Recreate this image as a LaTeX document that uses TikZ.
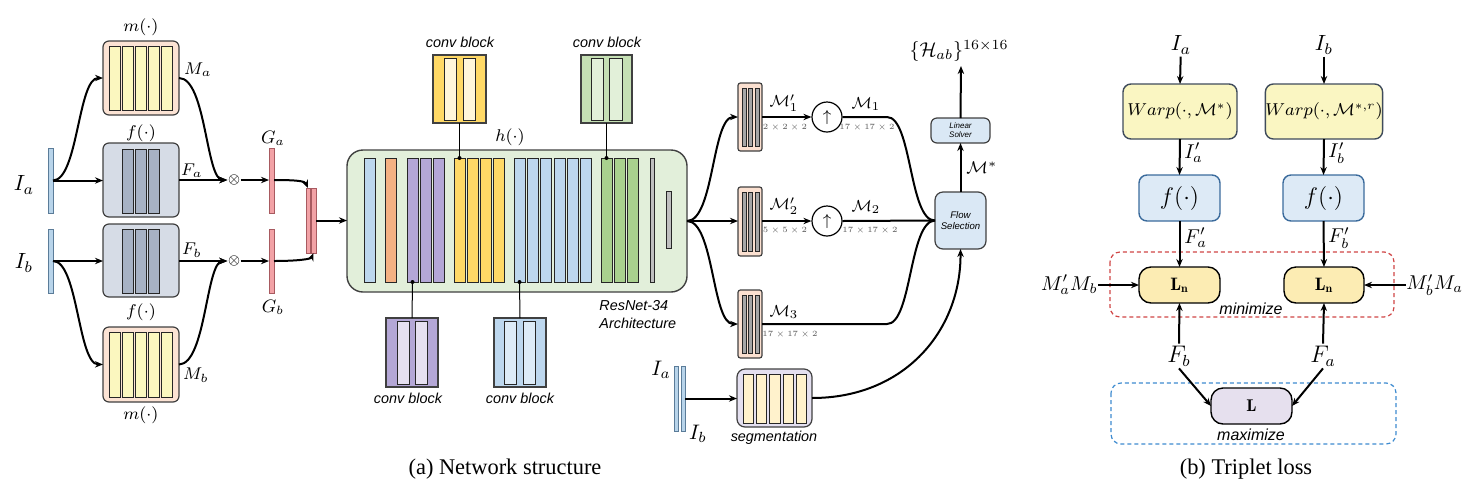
\documentclass[tikz,border=0pt]{standalone}
\usepackage{fix-cm}
\usepackage{amsmath}
\usepackage{fontspec}
\newfontfamily\hv{Liberation Sans}
\newfontfamily\tms{Liberation Serif}
\usetikzlibrary{arrows.meta}
\definecolor{inblue}{HTML}{B8D4EA}
\definecolor{inbd}{HTML}{5B7C99}
\definecolor{peach}{HTML}{FCE3D4}
\definecolor{ybar}{HTML}{FBF7BF}
\definecolor{fgray}{HTML}{D6DCE6}
\definecolor{fbar}{HTML}{A7B2C4}
\definecolor{gpink}{HTML}{F2A2A6}
\definecolor{gpinkbd}{HTML}{A85A60}
\definecolor{hgreen}{HTML}{E2EFDA}
\definecolor{cblue}{HTML}{BDD7EE}
\definecolor{corange}{HTML}{F4B183}
\definecolor{cpurp}{HTML}{B4A7D6}
\definecolor{cyel}{HTML}{FFD966}
\definecolor{cgreen}{HTML}{A9D18E}
\definecolor{cgray}{HTML}{BFBFBF}
\definecolor{cyelin}{HTML}{FFF6DA}
\definecolor{cgreenbox}{HTML}{C5E0B4}
\definecolor{cgreenin}{HTML}{E2F0D9}
\definecolor{cpurpin}{HTML}{E6E0F0}
\definecolor{cbluein}{HTML}{DDEBF7}
\definecolor{sbpeach}{HTML}{FBE0D0}
\definecolor{sbbar}{HTML}{A6A6A6}
\definecolor{fsblue}{HTML}{DAE8F5}
\definecolor{seglav}{HTML}{E4E0F0}
\definecolor{segbar}{HTML}{FFF2CC}
\definecolor{warpy}{HTML}{FAF6C2}
\definecolor{warpbd}{HTML}{3F4B5B}
\definecolor{fRfill}{HTML}{DDEAF6}
\definecolor{fRbd}{HTML}{3B6B9C}
\definecolor{lnfill}{HTML}{FCECB3}
\definecolor{lfill}{HTML}{E6E0EE}
\definecolor{reddash}{HTML}{D04545}
\definecolor{bluedash}{HTML}{3D8BD0}
\newcommand\pxbox[7]{\node[#2,minimum width={(#5-#3)*0.5pt},minimum height={(#6-#4)*0.5pt},inner sep=0pt,outer sep=0pt] (#1) at ({(#3+#5)/2},{(#4+#6)/2}) {#7};}
\begin{document}
\begin{tikzpicture}[x=0.5pt,y=-0.5pt,
  arr/.style={line width=1pt,-{Stealth[length=4pt,width=3.2pt]}},
  ln/.style={line width=1pt},
  thinln/.style={line width=0.5pt},
  bx/.style={draw=black!75,line width=0.6pt},
  barst/.style={draw=black!85,line width=0.5pt},
  lab/.style={inner sep=0pt},
  mlab/.style={inner sep=0pt,font=\fontsize{8.5}{10}\selectfont},
  biglab/.style={inner sep=0pt,font=\fontsize{11}{13}\selectfont},
  dimlab/.style={inner sep=0pt,text=black!65,font=\fontsize{4}{4.8}\selectfont},
  sflab/.style={inner sep=0pt,font=\fontsize{7.2}{9}\selectfont\hv\itshape},
  dot/.style={circle,fill=black,inner sep=0pt,minimum size=2pt},
 ]
\useasboundingbox (0,0) rectangle (1479,494);

% ---------------- LEFT ----------------
\pxbox{IaBar}{fill=inblue,draw=inbd,line width=0.5pt}{48}{148}{53}{213}{}
\pxbox{IbBar}{fill=inblue,draw=inbd,line width=0.5pt}{48}{229}{53}{293}{}
\node[biglab] (LIa) at (24,185) {$I_a$};
\node[biglab] (LIb) at (24,263) {$I_b$};

\pxbox{mT}{bx,fill=peach,rounded corners=3pt}{103}{41}{179}{115}{}
\pxbox{fT}{bx,fill=fgray,rounded corners=3pt}{103}{143}{179}{217}{}
\pxbox{fB}{bx,fill=fgray,rounded corners=3pt}{103}{224}{179}{297}{}
\pxbox{mB}{bx,fill=peach,rounded corners=3pt}{103}{327}{179}{402}{}
\foreach \xx [count=\i] in {109,122,135,148,161}{
  \pxbox{mTb\i}{barst,fill=ybar}{\xx}{46}{\xx+11}{110}{}
  \pxbox{mBb\i}{barst,fill=ybar}{\xx}{332}{\xx+11}{397}{}
}
\foreach \xx [count=\i] in {122,135,148}{
  \pxbox{fTb\i}{barst,fill=fbar}{\xx}{149}{\xx+11}{213}{}
  \pxbox{fBb\i}{barst,fill=fbar}{\xx}{229}{\xx+11}{293}{}
}
\node[mlab] (LmT) at (141,27) {$m(\cdot)$};
\node[mlab] (LfT) at (141,133) {$f(\cdot)$};
\node[mlab] (LfB) at (141,312) {$f(\cdot)$};
\node[mlab] (LmB) at (141,415) {$m(\cdot)$};
\node[mlab] (LMa) at (198,70) {$M_a$};
\node[mlab] (LMb) at (196,375) {$M_b$};
\node[mlab] (LFa) at (192,171) {$F_a$};
\node[mlab] (LFb) at (192,250) {$F_b$};

\node[inner sep=0pt,font=\fontsize{7}{8}\selectfont] (oxT) at (234,180) {$\otimes$};
\node[inner sep=0pt,font=\fontsize{7}{8}\selectfont] (oxB) at (234,261) {$\otimes$};

\pxbox{Ga}{fill=gpink,draw=gpinkbd,line width=0.5pt}{269}{148}{274}{213}{}
\pxbox{Gb}{fill=gpink,draw=gpinkbd,line width=0.5pt}{269}{229}{274}{293}{}
\node[mlab,font=\fontsize{9}{10}\selectfont] (LGa) at (273,138) {$G_a$};
\node[mlab,font=\fontsize{9}{10}\selectfont] (LGb) at (273,307) {$G_b$};
\pxbox{C1}{fill=gpink,draw=gpinkbd,line width=0.5pt}{306}{188}{310}{253}{}
\pxbox{C2}{fill=gpink,draw=gpinkbd,line width=0.5pt}{311}{188}{316}{253}{}

\draw[arr] (IaBar.east) -- (IaBar.east -| fT.west);
\draw[arr] (IbBar.east) -- (IbBar.east -| fB.west);
\draw[arr] (IaBar.east) .. controls (78,180) and (78,78) .. (mT.west);
\draw[arr] (IbBar.east) .. controls (78,261) and (78,364) .. (mB.west);
\draw[arr] (fT.east) -- (oxT.west);
\draw[arr] (fB.east |- oxB) -- (oxB.west);
\draw[arr] (mT.east) .. controls (206,78) and (206,180) .. (oxT.west);
\draw[arr] (mB.east) .. controls (206,364) and (206,261) .. (oxB.west);
\draw[arr] (oxT.east) -- (oxT.east -| Ga.west);
\draw[arr] (oxB.east) -- (oxB.east -| Gb.west);
\draw[arr] (Ga.east |- oxT) .. controls (296,180) and (305,181) .. (C1.north);
\draw[arr] (Gb.east |- oxB) .. controls (298,261) and (311,259) .. (C2.south);

% ---------------- MIDDLE ----------------
\pxbox{hBox}{draw=black!75,line width=0.7pt,fill=hgreen,rounded corners=8pt}{347}{150}{687}{292}{}
\node[mlab] (Lh) at (510,137) {$h(\cdot)$};
\draw[arr] (C2.east) -- (C2.east -| hBox.west);
\pxbox{hb1}{barst,fill=cblue}{364}{158}{375}{282}{}
\pxbox{hb2}{barst,fill=corange}{385}{158}{396}{282}{}
\foreach \xx [count=\i] in {407,420,433}{\pxbox{hp\i}{barst,fill=cpurp}{\xx}{158}{\xx+11}{282}{}}
\foreach \xx [count=\i] in {454,467,480,493}{\pxbox{hy\i}{barst,fill=cyel}{\xx}{158}{\xx+11}{282}{}}
\foreach \xx [count=\i] in {514,527,540,554,567,580}{\pxbox{hl\i}{barst,fill=cblue}{\xx}{158}{\xx+11}{282}{}}
\foreach \xx [count=\i] in {601,614,627}{\pxbox{hg\i}{barst,fill=cgreen}{\xx}{158}{\xx+11}{282}{}}
\pxbox{hq1}{barst,fill=cgray}{650}{158}{654}{282}{}
\pxbox{hq2}{barst,fill=cgray}{666}{191}{671}{248}{}

% conv blocks
\pxbox{cvA}{bx,fill=cyel}{433}{55}{486}{123}{}
\pxbox{cvAi1}{barst,fill=cyelin}{444}{58}{456}{120}{}
\pxbox{cvAi2}{barst,fill=cyelin}{463}{58}{475}{120}{}
\pxbox{cvB}{bx,fill=cgreenbox}{581}{55}{632}{123}{}
\pxbox{cvBi1}{barst,fill=cgreenin}{591}{58}{603}{120}{}
\pxbox{cvBi2}{barst,fill=cgreenin}{609}{58}{622}{120}{}
\pxbox{cvC}{bx,fill=cpurp}{386}{318}{438}{387}{}
\pxbox{cvCi1}{barst,fill=cpurpin}{397}{321}{409}{384}{}
\pxbox{cvCi2}{barst,fill=cpurpin}{415}{321}{427}{384}{}
\pxbox{cvD}{bx,fill=cblue}{494}{318}{546}{387}{}
\pxbox{cvDi1}{barst,fill=cbluein}{504}{321}{516}{384}{}
\pxbox{cvDi2}{barst,fill=cbluein}{523}{321}{535}{384}{}
\node[sflab] (LcvA) at (460,42) {conv block};
\node[sflab] (LcvB) at (607,42) {conv block};
\node[sflab] (LcvC) at (408,398) {conv block};
\node[sflab] (LcvD) at (520,398) {conv block};
\draw[thinln] (cvA.south) -- (hy1.north) node[dot]{};
\draw[thinln] (cvB.south) -- (hg1.north) node[dot]{};
\draw[thinln] (cvC.north) -- (hp1.south) node[dot]{};
\draw[thinln] (cvD.north) -- (hl1.south) node[dot]{};
\node[sflab,anchor=west,align=left] (Lres) at (599,315) {ResNet-34\\Architecture};

% ---------------- RIGHT-MIDDLE ----------------
\pxbox{sb1}{bx,fill=sbpeach,rounded corners=1.2pt}{738}{83}{762}{151}{}
\pxbox{sb2}{bx,fill=sbpeach,rounded corners=1.2pt}{738}{187}{762}{256}{}
\pxbox{sb3}{bx,fill=sbpeach,rounded corners=1.2pt}{738}{290}{762}{358}{}
\foreach \xx [count=\i] in {742,748.5,755}{
  \pxbox{sb1b\i}{barst,fill=sbbar}{\xx}{88}{\xx+4}{146}{}
  \pxbox{sb2b\i}{barst,fill=sbbar}{\xx}{192}{\xx+4}{251}{}
  \pxbox{sb3b\i}{barst,fill=sbbar}{\xx}{295}{\xx+4}{353}{}
}
\coordinate (br) at (hBox.east);
\draw[arr] (br) .. controls (714,221) and (712,117) .. (sb1.west);
\draw[arr] (br) -- (br -| sb2.west);
\draw[arr] (br) .. controls (714,221) and (712,324) .. (sb3.west);

\node[draw,circle,fill=white,line width=0.6pt,minimum size=15pt,inner sep=0pt,font=\fontsize{8}{9}\selectfont] (up1) at (827,117) {$\uparrow$};
\node[draw,circle,fill=white,line width=0.6pt,minimum size=15pt,inner sep=0pt,font=\fontsize{8}{9}\selectfont] (up2) at (827,221) {$\uparrow$};

\pxbox{FS}{bx,fill=fsblue,rounded corners=4pt,align=center,font=\fontsize{4.8}{5.8}\selectfont\hv\itshape}{935}{192}{986}{249}{Flow\\Selection}
\pxbox{LS}{bx,fill=fsblue,rounded corners=3pt,align=center,font=\fontsize{4}{4.6}\selectfont\hv\itshape}{931}{118}{990}{143}{Linear\\Solver}

\draw[arr] (sb1.east |- up1) -- (up1.west);
\draw[arr] (sb2.east |- up2) -- (up2.west);
\draw[ln] (up1.east) -- (887,117) .. controls (912,117) and (909,221) .. (FS.west);
\draw[ln] (sb3.east |- 0,324) -- (887,324) .. controls (912,324) and (909,221) .. (FS.west);
\draw[arr] (up2.east) -- (FS.west);

\node[mlab,font=\fontsize{8}{9}\selectfont] (LM1p) at (784,103) {$\mathcal{M}_1'$};
\node[dimlab] (D1) at (785,127) {$2\times2\times2$};
\node[mlab,font=\fontsize{8}{9}\selectfont] (LM1) at (866,104) {$\mathcal{M}_1$};
\node[dimlab] (D2) at (867,127) {$17\times17\times2$};
\node[mlab,font=\fontsize{8}{9}\selectfont] (LM2p) at (784,206) {$\mathcal{M}_2'$};
\node[dimlab] (D3) at (785,230) {$5\times5\times2$};
\node[mlab,font=\fontsize{8}{9}\selectfont] (LM2) at (866,207) {$\mathcal{M}_2$};
\node[dimlab] (D4) at (870,230) {$17\times17\times2$};
\node[mlab,font=\fontsize{8}{9}\selectfont] (LM3) at (784,312) {$\mathcal{M}_3$};
\node[dimlab] (D5) at (790,334) {$17\times17\times2$};

\draw[arr] (FS.north) -- (LS.south);
\node[mlab] (LMs) at (982,168) {$\mathcal{M}^*$};
\coordinate (Hend) at (961,66);
\draw[arr] (LS.north) -- (Hend);
\node[inner sep=0pt,font=\fontsize{10}{11}\selectfont] (LH) at (959,51) {$\{\mathcal{H}_{ab}\}^{16\times16}$};

% segmentation
\pxbox{IAbot}{fill=inblue,draw=inbd,line width=0.5pt}{674}{366}{678}{431}{}
\pxbox{IBbot}{fill=inblue,draw=inbd,line width=0.5pt}{681}{366}{685}{431}{}
\node[biglab,font=\fontsize{10.5}{12}\selectfont] (LIa2) at (661,370) {$I_a$};
\node[biglab,font=\fontsize{10.5}{12}\selectfont] (LIb2) at (698,434) {$I_b$};
\pxbox{seg}{bx,fill=seglav,rounded corners=4pt}{737}{369}{812}{427}{}
\foreach \xx [count=\i] in {743,756,769.5,783,796}{\pxbox{segb\i}{barst,fill=segbar}{\xx}{374}{\xx+10.5}{423}{}}
\node[sflab] (Lseg) at (774,438) {segmentation};
\draw[arr] (IBbot.east) -- (IBbot.east -| seg.west);
\draw[arr] (seg.east) .. controls (905,398) and (961,330) .. (FS.south);

% ---------------- RIGHT (triplet) ----------------
\node[biglab,inner sep=1pt] (RIa) at (1181,45) {$I_a$};
\node[biglab,inner sep=1pt] (RIb) at (1324,45) {$I_b$};
\pxbox{W1}{draw=warpbd,line width=0.7pt,fill=warpy,rounded corners=4pt,font=\fontsize{8.6}{10}\selectfont}{1123}{84}{1237}{139}{$Warp(\cdot,\mathcal{M}^*)$}
\pxbox{W2}{draw=warpbd,line width=0.7pt,fill=warpy,rounded corners=4pt,font=\fontsize{8.6}{10}\selectfont}{1267}{84}{1381}{139}{$Warp(\cdot,\mathcal{M}^{*,r})$}
\pxbox{fR1}{draw=fRbd,line width=0.7pt,fill=fRfill,rounded corners=4pt,font=\fontsize{12}{13}\selectfont}{1139}{175}{1220}{221}{$f(\cdot)$}
\pxbox{fR2}{draw=fRbd,line width=0.7pt,fill=fRfill,rounded corners=4pt,font=\fontsize{12}{13}\selectfont}{1283}{175}{1364}{221}{$f(\cdot)$}
\draw[rounded corners=5pt,draw=reddash,line width=0.6pt,dash pattern=on 2pt off 1.5pt] (1110,252) rectangle (1394,317);
\draw[rounded corners=5pt,draw=bluedash,line width=0.6pt,dash pattern=on 2pt off 1.5pt] (1111,383) rectangle (1396,444);
\pxbox{Ln1}{draw=black,line width=0.7pt,fill=lnfill,rounded corners=6pt,font=\fontsize{9}{10}\selectfont}{1139}{267}{1220}{303}{$\mathbf{L_n}$}
\pxbox{Ln2}{draw=black,line width=0.7pt,fill=lnfill,rounded corners=6pt,font=\fontsize{9}{10}\selectfont}{1284}{267}{1364}{303}{$\mathbf{L_n}$}
\pxbox{Lm}{draw=black,line width=0.7pt,fill=lfill,rounded corners=6pt,font=\fontsize{8.5}{10}\selectfont}{1211}{388}{1292}{424}{$\mathbf{L}$}

\draw[arr] (RIa) -- (W1.north);
\draw[arr] (RIb) -- (W2.north);
\draw[arr] (W1.south) -- (fR1.north);
\draw[arr] (W2.south) -- (fR2.north);
\draw[arr] (fR1.south) -- (Ln1.north);
\draw[arr] (fR2.south) -- (Ln2.north);
\node[biglab,font=\fontsize{10}{11}\selectfont,anchor=west] (LIap) at (1184,153) {$I_a'$};
\node[biglab,font=\fontsize{10}{11}\selectfont,anchor=west] (LIbp) at (1328,153) {$I_b'$};
\node[biglab,font=\fontsize{10}{11}\selectfont,anchor=west] (LFap) at (1184,238) {$F_a'$};
\node[biglab,font=\fontsize{10}{11}\selectfont,anchor=west] (LFbp) at (1328,238) {$F_b'$};

\node[biglab,font=\fontsize{10}{11}\selectfont,anchor=east] (LMaMb) at (1098,285) {$M_a'M_b$};
\node[biglab,font=\fontsize{10}{11}\selectfont,anchor=west] (LMbMa) at (1406,285) {$M_b'M_a$};
\draw[arr] (LMaMb.east) -- (Ln1.west);
\draw[arr] (LMbMa.west) -- (Ln2.east);
\node[sflab,font=\fontsize{8}{9}\selectfont\hv\itshape] (Lmin) at (1251,309) {minimize};
\node[sflab,font=\fontsize{8}{9}\selectfont\hv\itshape] (Lmax) at (1251,435) {maximize};

\node[biglab,font=\fontsize{12}{13}\selectfont,inner sep=1pt] (RFb) at (1179,356) {$F_b$};
\node[biglab,font=\fontsize{12}{13}\selectfont,inner sep=1pt] (RFa) at (1323,356) {$F_a$};
\draw[arr] (RFb.north) -- (Ln1.south);
\draw[arr] (RFa.north) -- (Ln2.south);
\draw[arr] (RFb.south) -- (Lm.west);
\draw[arr] (RFa.south) -- (Lm.east);

% captions
\node[inner sep=0pt,font=\fontsize{11.2}{13}\selectfont\tms] (capA) at (505,469) {(a) Network structure};
\node[inner sep=0pt,font=\fontsize{11.2}{13}\selectfont\tms] (capB) at (1246,469) {(b) Triplet loss};
\end{tikzpicture}
\end{document}
